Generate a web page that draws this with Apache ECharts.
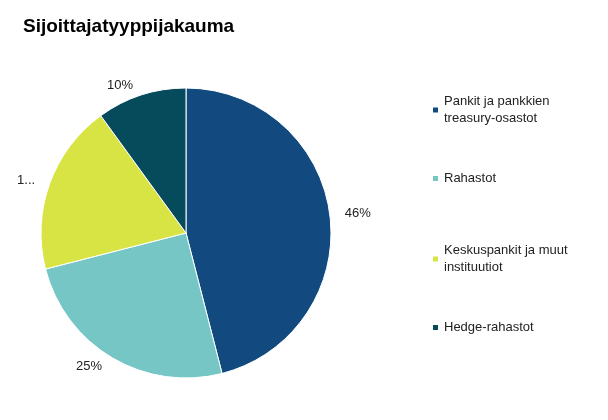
<!DOCTYPE html>
<html><head><meta charset="utf-8">
<script src="https://cdn.jsdelivr.net/npm/echarts@6/dist/echarts.min.js"></script>
<style>html,body{margin:0;background:#fff}#c{width:608px;height:420px}</style>
</head><body><div id="c"></div>
<script>
const categories = ["Pankit ja pankkien\ntreasury-osastot", "Rahastot", "Keskuspankit ja muut\ninstituutiot", "Hedge-rahastot"];
const values = [46, 25, 19, 10];
const colors = ["#124a80", "#76c6c6", "#d8e344", "#064b5b"];
const legendTops = [88, 165, 237, 314];
const chart = echarts.init(document.getElementById('c'));
chart.setOption({
  animation: false,
  title: { text: "Sijoittajatyyppijakauma", left: 18, top: 12,
    textStyle: { fontFamily: "Liberation Sans", fontSize: 19, fontWeight: "bold", color: "#000" } },
  legend: categories.map((c, i) => ({
    data: [c], left: 426, top: legendTops[i], orient: "vertical",
    itemWidth: 7, itemHeight: 7, itemGap: 0, icon: "rect",
    textStyle: { fontFamily: "Liberation Sans", fontSize: 13, color: "#222", lineHeight: 17 }
  })),
  series: [{
    type: "pie", center: [186, 233], radius: 145, startAngle: 90,
    data: categories.map((c, i) => ({ name: c, value: values[i], itemStyle: { color: colors[i] } })),
    itemStyle: { borderColor: "#fff", borderWidth: 1 },
    label: { show: true, position: "outside", formatter: "{c}%", fontFamily: "Liberation Sans", fontSize: 13, color: "#222" },
    labelLine: { show: false, length: 10, length2: 0 },
    emphasis: { disabled: true }
  }]
});
</script></body></html>
